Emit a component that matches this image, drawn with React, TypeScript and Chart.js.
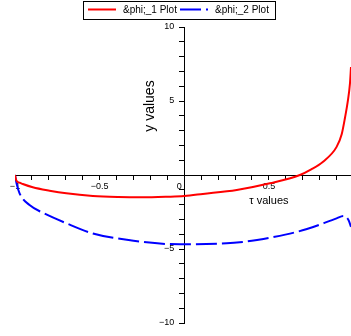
import React, { useEffect, useRef } from "react";
import { Chart, registerables } from "chart.js";

Chart.register(...registerables);

const tau1 = [-1, -0.993, -0.973, -0.954, -0.895, -0.796, -0.697, -0.54, -0.39, -0.25, -0.1, 0, 0.11, 0.31, 0.506, 0.683, 0.75, 0.82, 0.9, 0.93, 0.95, 0.965, 0.979, 0.985];
const phi1 = [0, -0.34, -0.52, -0.61, -0.83, -1.06, -1.24, -1.42, -1.49, -1.51, -1.47, -1.42, -1.28, -1.01, -0.56, 0, 0.38, 0.9, 1.9, 2.75, 3.9, 4.9, 6.2, 7.3];

const tau2 = [-1, -0.991, -0.973, -0.914, -0.836, -0.697, -0.54, -0.3, -0.105, 0, 0.25, 0.328, 0.43, 0.525, 0.72, 0.9, 0.94, 0.97, 0.985];
const phi2 = [0, -0.56, -1.24, -2.03, -2.55, -3.26, -3.95, -4.44, -4.66, -4.68, -4.61, -4.55, -4.39, -4.2, -3.67, -2.93, -2.77, -3.04, -3.5];

const seriesNames = ["&phi;_1 Plot", "&phi;_2 Plot"];
const xTickLabels = [-1, -0.5, 0, 0.5];
const yTickLabels = [-10, -5, 5, 10];
const xTitle = "τ values";
const yTitle = "y values";

const FONT = "'Liberation Sans', Arial, Helvetica, sans-serif";

const fmt = (v: number) => String(v).replace("-", "\u2212");

export default function App() {
  const ref = useRef<HTMLCanvasElement>(null);

  useEffect(() => {
    if (!ref.current) return;

    const decor = {
      id: "decor",
      afterDraw(chart: any) {
        const ctx = chart.ctx as CanvasRenderingContext2D;
        const xs = chart.scales.x;
        const ys = chart.scales.y;
        ctx.save();
        ctx.fillStyle = "#000";
        ctx.textAlign = "center";
        ctx.textBaseline = "middle";
        ctx.font = `11px ${FONT}`;
        ctx.fillText(xTitle, xs.getPixelForValue(0.5), ys.getPixelForValue(0) + 26);
        ctx.save();
        ctx.translate(xs.getPixelForValue(-0.204), ys.getPixelForValue(4.66));
        ctx.rotate(-Math.PI / 2);
        ctx.font = `14px ${FONT}`;
        ctx.fillText(yTitle, 0, 0);
        ctx.restore();

        // legend
        ctx.strokeStyle = "#000";
        ctx.lineWidth = 1;
        ctx.strokeRect(83.5, 1.5, 192, 18);
        ctx.font = `10px ${FONT}`;
        ctx.textAlign = "left";
        const ds = chart.data.datasets;
        const items = [
          { x: 88, tx: 123 },
          { x: 180, tx: 215 },
        ];
        items.forEach((it, i) => {
          ctx.beginPath();
          ctx.strokeStyle = ds[i].borderColor;
          ctx.lineWidth = 2;
          ctx.setLineDash(ds[i].borderDash || []);
          ctx.moveTo(it.x, 9.5);
          ctx.lineTo(it.x + 28, 9.5);
          ctx.stroke();
          ctx.setLineDash([]);
          ctx.fillStyle = "#000";
          ctx.fillText(ds[i].label, it.tx, 10.5);
        });
        ctx.restore();
      },
    };

    const zeroFit = (axis: string) => (scale: any) => {
      if (axis === "x") scale.height = 0;
      else scale.width = 0;
      scale.paddingLeft = 0;
      scale.paddingRight = 0;
      scale.paddingTop = 0;
      scale.paddingBottom = 0;
    };

    const chart = new Chart(ref.current, {
      type: "line",
      data: {
        datasets: [
          {
            label: seriesNames[0],
            data: tau1.map((t, i) => ({ x: t, y: phi1[i] })),
            borderColor: "#ff0000",
            backgroundColor: "#ff0000",
            borderWidth: 2,
            pointRadius: 0,
            cubicInterpolationMode: "monotone",
            fill: false,
          },
          {
            label: seriesNames[1],
            data: tau2.map((t, i) => ({ x: t, y: phi2[i] })),
            borderColor: "#0000ff",
            backgroundColor: "#0000ff",
            borderWidth: 2,
            borderDash: [21, 5],
            pointRadius: 0,
            cubicInterpolationMode: "monotone",
            fill: false,
          },
        ],
      },
      options: {
        animation: false,
        responsive: false,
        maintainAspectRatio: false,
        layout: { padding: { left: 15, right: 0, top: 27, bottom: 13 } },
        plugins: {
          legend: { display: false },
          tooltip: { enabled: false },
        },
        scales: {
          x: {
            type: "linear",
            min: -1,
            max: 0.985,
            position: { y: 0 },
            afterFit: zeroFit("x"),
            border: { display: true, color: "#000", width: 1 },
            grid: {
              drawOnChartArea: false,
              drawTicks: true,
              tickLength: 4,
              color: "#000",
              tickColor: "#000",
            },
            ticks: {
              stepSize: 0.1,
              includeBounds: false,
              autoSkip: false,
              maxRotation: 0,
              padding: 2,
              color: "#000",
              font: { family: FONT, size: 9 },
              callback: (v: any) => {
                const r = Math.round(Number(v) * 10) / 10;
                if (!xTickLabels.includes(r)) return "";
                return r === 0 ? "0    " : fmt(r);
              },
            },
          },
          y: {
            type: "linear",
            min: -10,
            max: 10,
            position: { x: 0 },
            afterFit: zeroFit("y"),
            border: { display: true, color: "#000", width: 1 },
            grid: {
              drawOnChartArea: false,
              drawTicks: true,
              tickLength: 5,
              color: "#000",
              tickColor: "#000",
            },
            ticks: {
              stepSize: 1,
              autoSkip: false,
              padding: 3,
              color: "#000",
              font: { family: FONT, size: 9 },
              callback: (v: any) => {
                const n = Math.round(Number(v));
                return yTickLabels.includes(n) ? fmt(n) + "    " : "";
              },
            },
          },
        },
      },
      plugins: [decor],
    } as any);

    return () => chart.destroy();
  }, []);

  return (
    <div style={{ position: "absolute", left: 0, top: 0, width: 351, height: 336, background: "#fff" }}>
      <canvas ref={ref} width={351} height={336} style={{ display: "block" }} />
    </div>
  );
}
